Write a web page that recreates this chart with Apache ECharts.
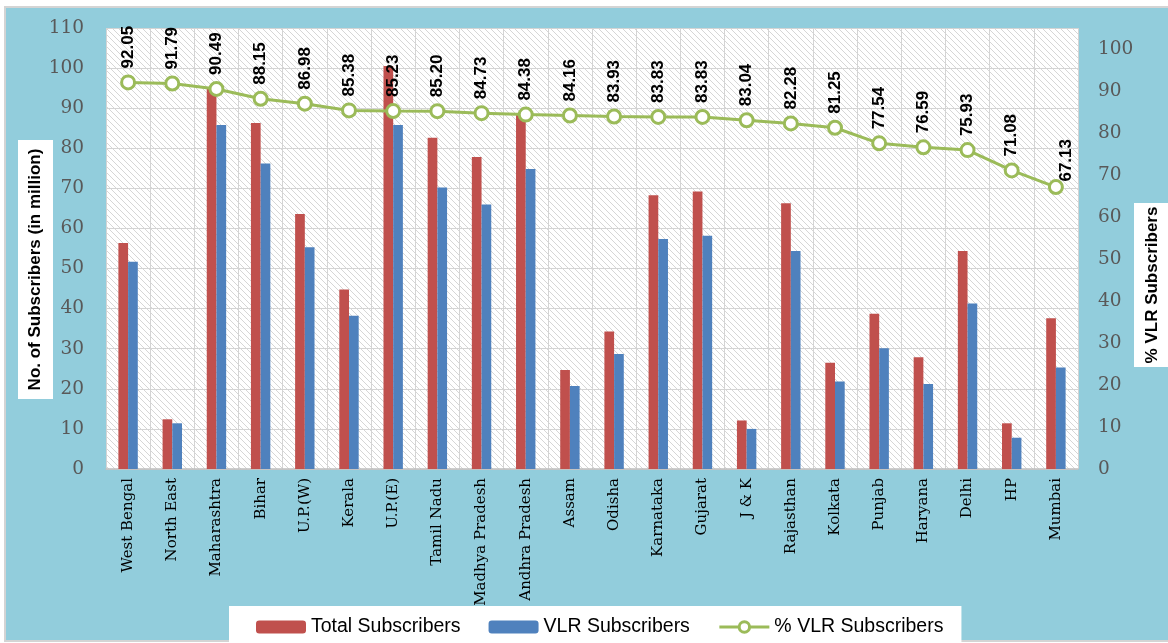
<html>
<head>
    <meta charset="utf-8">
    <script src="https://cdn.jsdelivr.net/npm/echarts@6/dist/echarts.min.js"></script>
    <style>
        html, body { margin: 0; padding: 0; background: #fff; }
    </style>
</head>
<body>
<div id="main" style="width: 1168px;height:643px;"></div>
<script>
    // circles / regions
    var circles = ['West Bengal', 'North East', 'Maharashtra', 'Bihar', 'U.P.(W)', 'Kerala', 'U.P.(E)',
        'Tamil Nadu', 'Madhya Pradesh', 'Andhra Pradesh', 'Assam', 'Odisha', 'Karnataka', 'Gujarat',
        'J & K', 'Rajasthan', 'Kolkata', 'Punjab', 'Haryana', 'Delhi', 'HP', 'Mumbai'];
    // subscribers in million
    var totalSubs = [56.4, 12.4, 94.8, 86.3, 63.6, 44.8, 100.5, 82.6, 77.8, 88.4, 24.7,
        34.3, 68.3, 69.2, 12.1, 66.3, 26.5, 38.7, 27.9, 54.4, 11.4, 37.6];
    var vlrSubs = [51.7, 11.4, 85.8, 76.2, 55.3, 38.2, 85.8, 70.2, 66.0, 74.8, 20.7,
        28.7, 57.4, 58.2, 10.0, 54.4, 21.8, 30.1, 21.2, 41.3, 7.8, 25.3];
    var vlrPct = [92.05, 91.79, 90.49, 88.15, 86.98, 85.38, 85.23, 85.20, 84.73, 84.38, 84.16,
        83.93, 83.83, 83.83, 83.04, 82.28, 81.25, 77.54, 76.59, 75.93, 71.08, 67.13];

    // hatched plot background
    var hatch = document.createElement('canvas');
    hatch.width = 6;
    hatch.height = 6;
    var ctx = hatch.getContext('2d');
    ctx.fillStyle = '#ffffff';
    ctx.fillRect(0, 0, 6, 6);
    ctx.strokeStyle = '#d6d6d6';
    ctx.lineWidth = 1;
    ctx.beginPath();
    ctx.moveTo(-1, -1); ctx.lineTo(7, 7);
    ctx.moveTo(-4, 2); ctx.lineTo(2, 8);
    ctx.moveTo(4, -2); ctx.lineTo(8, 2);
    ctx.stroke();

    // last label sits right of its point (offset is in the rotated frame)
    var pctData = vlrPct.map(function (v, i) {
        if (i === vlrPct.length - 1) {
            return {value: v, label: {offset: [-8.5, 10]}};
        }
        return v;
    });

    var myChart = echarts.init(document.getElementById('main'));
    var option = {
        backgroundColor: '#ffffff',
        animation: false,
        color: ['#C0504D', '#4F81BD', '#9BBB59'],
        graphic: [
            {
                type: 'rect', z: -10,
                shape: {x: 5, y: 7, width: 1170, height: 634},
                style: {fill: '#92CDDC', stroke: '#d4d4d4', lineWidth: 2}
            },
            {
                type: 'rect',
                shape: {x: 18, y: 140, width: 35, height: 259},
                style: {fill: '#ffffff'}
            },
            {
                type: 'text', x: 35.5, y: 269.5, rotation: Math.PI / 2,
                style: {
                    text: 'No. of Subscribers (in million)', fill: '#000',
                    font: 'bold 17px "Liberation Sans", Arial, sans-serif',
                    align: 'center', verticalAlign: 'middle'
                }
            },
            {
                type: 'rect',
                shape: {x: 1134, y: 203, width: 40, height: 164},
                style: {fill: '#ffffff'}
            },
            {
                type: 'text', x: 1152, y: 285, rotation: Math.PI / 2,
                style: {
                    text: '% VLR Subscribers', fill: '#000',
                    font: 'bold 17px "Liberation Sans", Arial, sans-serif',
                    align: 'center', verticalAlign: 'middle'
                }
            }
        ],
        legend: {
            left: 229,
            top: 606,
            padding: [11, 18, 12, 27],
            backgroundColor: '#ffffff',
            itemWidth: 50,
            itemHeight: 13,
            itemGap: 28,
            textStyle: {
                fontFamily: '"Liberation Sans", Arial, sans-serif',
                fontSize: 19.5,
                color: '#000'
            },
            data: [
                'Total Subscribers',
                'VLR Subscribers',
                {
                    name: '% VLR Subscribers',
                    lineStyle: {width: 3},
                    itemStyle: {borderWidth: 3}
                }
            ]
        },
        grid: {
            left: 106,
            right: 90,
            top: 28,
            bottom: 174,
            show: true,
            borderWidth: 0,
            backgroundColor: {image: hatch, repeat: 'repeat'}
        },
        xAxis: {
            type: 'category',
            data: circles,
            axisLine: {lineStyle: {color: '#bfbfbf', width: 1.5}},
            axisTick: {length: 5, lineStyle: {color: '#bfbfbf'}},
            splitLine: {show: true, lineStyle: {color: '#d4d4d4'}},
            axisLabel: {
                interval: 0,
                rotate: 90,
                margin: 9,
                color: '#000',
                fontFamily: '"DejaVu Serif", serif',
                fontSize: 15
            }
        },
        yAxis: [
            {
                type: 'value',
                min: 0,
                max: 110,
                interval: 10,
                axisLine: {show: false},
                axisTick: {show: false},
                splitLine: {lineStyle: {color: '#d4d4d4'}},
                axisLabel: {
                    margin: 22,
                    color: '#595959',
                    fontFamily: '"DejaVu Serif", serif',
                    fontSize: 18.5
                }
            },
            {
                type: 'value',
                min: 0,
                max: 105,
                interval: 10,
                axisLine: {show: false},
                axisTick: {show: false},
                splitLine: {show: false},
                axisLabel: {
                    margin: 20,
                    showMaxLabel: false,
                    color: '#595959',
                    fontFamily: '"DejaVu Serif", serif',
                    fontSize: 18.5
                }
            }
        ],
        series: [
            {
                name: 'Total Subscribers',
                type: 'bar',
                barWidth: 9.7,
                barGap: 0,
                data: totalSubs
            },
            {
                name: 'VLR Subscribers',
                type: 'bar',
                barWidth: 9.7,
                barGap: 0,
                data: vlrSubs
            },
            {
                name: '% VLR Subscribers',
                type: 'line',
                yAxisIndex: 1,
                symbol: 'circle',
                symbolSize: 13,
                lineStyle: {width: 3, color: '#9BBB59'},
                itemStyle: {color: '#ffffff', borderColor: '#9BBB59', borderWidth: 3},
                label: {
                    show: true,
                    position: 'top',
                    distance: 6,
                    rotate: 90,
                    align: 'left',
                    verticalAlign: 'middle',
                    color: '#000',
                    fontFamily: '"Liberation Sans", Arial, sans-serif',
                    fontWeight: 'bold',
                    fontSize: 17,
                    formatter: function (p) {
                        return p.value.toFixed(2);
                    }
                },
                data: pctData
            }
        ]
    };
    myChart.setOption(option);
</script>
</body>
</html>
